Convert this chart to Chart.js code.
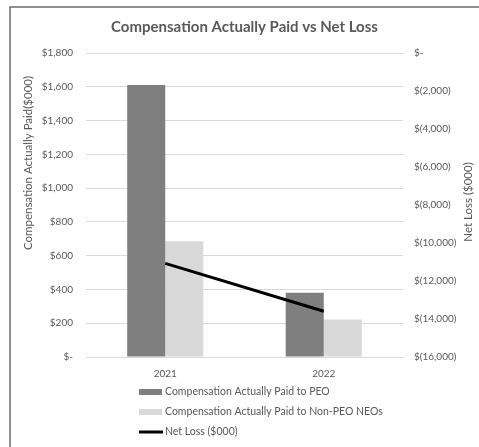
<!DOCTYPE html>
<html>
<head>
<meta charset="utf-8">
<script src="https://cdn.jsdelivr.net/npm/chart.js@4/dist/chart.umd.min.js"></script>
<style>
  html, body { margin: 0; padding: 0; background: #fff; }
  #wrap { position: relative; width: 479px; height: 447px; }
</style>
</head>
<body>
<div id="wrap"><canvas id="chart"></canvas></div>
<script>
const years = ["2021", "2022"];
const peoPaid = [1610, 380];
const neoPaid = [685, 222];
const netLoss = [-11070, -13590];

const leftMax = 1800;
const leftStep = 200;
const rightMin = -16000;
const rightStep = 2000;

const seriesNames = [
  "Compensation Actually Paid to PEO",
  "Compensation Actually Paid to Non-PEO NEOs",
  "Net Loss ($000)",
];
const leftTitle = "Compensation Actually Paid($000)";
const rightTitle = "Net Loss ($000)";
const chartTitle = "Compensation Actually Paid vs Net Loss";

const textColor = "#595959";
const font = "Lato";

const money = (v) => {
  if (v === 0) return "$-";
  const s = Math.abs(v).toLocaleString("en-US");
  return v < 0 ? `$(${s})` : `$${s}`;
};

// frame, axis titles and the stacked legend
const decor = {
  id: "decor",
  afterDraw(chart) {
    const ctx = chart.ctx;
    ctx.save();
    ctx.strokeStyle = "#6b6b6b";
    ctx.lineWidth = 1.5;
    ctx.beginPath();
    ctx.moveTo(10, 447);
    ctx.lineTo(10, 7);
    ctx.lineTo(479, 7);
    ctx.stroke();

    ctx.fillStyle = textColor;
    ctx.font = `11.5px ${font}`;
    ctx.textAlign = "center";
    ctx.textBaseline = "middle";
    ctx.save();
    ctx.translate(28, 163);
    ctx.rotate(-Math.PI / 2);
    ctx.fillText(leftTitle, 0, 0);
    ctx.restore();
    ctx.save();
    ctx.translate(468, 202);
    ctx.rotate(-Math.PI / 2);
    ctx.fillText(rightTitle, 0, 0);
    ctx.restore();

    ctx.textAlign = "left";
    ctx.font = `10.5px ${font}`;
    chart.data.datasets.forEach((ds, i) => {
      const y = 392 + i * 20;
      if (ds.type === "line") {
        ctx.fillStyle = ds.borderColor;
        ctx.fillRect(139, y - 1.5, 24, 3);
      } else {
        ctx.fillStyle = ds.backgroundColor;
        ctx.fillRect(139, y - 3, 23, 6);
      }
      ctx.fillStyle = textColor;
      ctx.fillText(ds.label, 165, y);
    });
    ctx.restore();
  },
};

new Chart(document.getElementById("chart"), {
  type: "bar",
  data: {
    labels: years,
    datasets: [
      {
        label: seriesNames[0],
        data: peoPaid,
        backgroundColor: "#7f7f7f",
        yAxisID: "y",
        order: 1,
      },
      {
        label: seriesNames[1],
        data: neoPaid,
        backgroundColor: "#d9d9d9",
        yAxisID: "y",
        order: 1,
      },
      {
        type: "line",
        label: seriesNames[2],
        data: netLoss,
        borderColor: "#000000",
        borderWidth: 3,
        pointRadius: 0,
        yAxisID: "y1",
        order: 0,
      },
    ],
  },
  options: {
    responsive: true,
    maintainAspectRatio: false,
    animation: false,
    categoryPercentage: 0.48,
    barPercentage: 1,
    layout: { padding: { left: 10, right: 0, top: 7, bottom: 64 } },
    plugins: {
      legend: { display: false },
      tooltip: { enabled: false },
      title: {
        display: true,
        text: chartTitle,
        color: textColor,
        font: { family: font, size: 15, weight: "bold" },
        padding: { top: 11, bottom: 17 },
      },
    },
    scales: {
      x: {
        grid: { display: false },
        border: { display: false },
        ticks: { color: textColor, font: { family: font, size: 10 }, padding: 3 },
      },
      y: {
        position: "left",
        min: 0,
        max: leftMax,
        grid: { color: "#d9d9d9", drawTicks: false },
        border: { display: false },
        ticks: {
          stepSize: leftStep,
          color: textColor,
          font: { family: font, size: 10 },
          padding: 13,
          callback: (v) => money(v),
        },
        afterFit: (scale) => { scale.width = 76; },
      },
      y1: {
        position: "right",
        min: rightMin,
        max: 0,
        grid: { drawOnChartArea: false, drawTicks: false },
        border: { display: false },
        ticks: {
          stepSize: rightStep,
          color: textColor,
          font: { family: font, size: 10 },
          padding: 11,
          callback: (v) => money(v),
        },
        afterFit: (scale) => { scale.width = 76; },
      },
    },
  },
  plugins: [decor],
});
</script>
</body>
</html>
